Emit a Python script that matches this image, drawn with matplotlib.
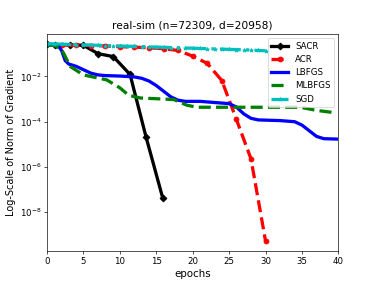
import matplotlib
matplotlib.use("Agg")
import matplotlib.pyplot as plt
import matplotlib.ticker as mticker
import numpy as np

# SACR
sacr_x = [0, 1.1, 3.2, 5.0, 7.0, 9.1, 11.4, 13.6, 15.9]
sacr_logy = [-0.58, -0.59, -0.6, -0.62, -0.99, -1.12, -1.91, -4.68, -7.39]

# ACR
acr_x = [0, 2, 4, 6, 8, 10, 12, 14, 16, 18, 20, 22, 24, 26, 28, 30]
acr_logy = [-0.58, -0.6, -0.62, -0.63, -0.65, -0.68, -0.7, -0.73, -0.77,
            -0.85, -1.1, -1.42, -2.18, -3.9, -5.64, -9.28]

# LBFGS
lbfgs_x = [0, 1.5, 2.0, 2.5, 3.0, 4.0, 5.0, 6.0, 7.0, 8.0, 10, 12, 13, 14, 15,
           16, 17, 18, 19, 21, 23, 25, 26, 27, 28, 29, 32, 34, 35, 36, 37, 38, 40]
lbfgs_logy = [-0.6, -0.62, -0.85, -1.3, -1.45, -1.55, -1.7, -1.85, -1.93, -1.96,
              -1.98, -2.02, -2.08, -2.2, -2.4, -2.65, -2.9, -3.05, -3.1, -3.1,
              -3.15, -3.2, -3.35, -3.65, -3.85, -3.92, -3.95, -4.0, -4.15, -4.4,
              -4.65, -4.75, -4.77]

# MLBFGS
mlbfgs_x = [0, 1.0, 2.0, 3.2, 5.0, 8.2, 10.0, 11.2, 12.8, 17.4, 19.2, 20.6,
            34.8, 37.0, 39.5]
mlbfgs_logy = [-0.6, -0.62, -0.8, -1.56, -1.93, -2.15, -2.5, -2.83, -2.95,
               -3.02, -3.27, -3.36, -3.36, -3.5, -3.6]

# SGD
sgd_x = list(range(0, 31))
sgd_logy = [-0.55, -0.56, -0.57, -0.58, -0.59, -0.6, -0.61, -0.62, -0.63, -0.64,
            -0.65, -0.66, -0.67, -0.68, -0.69, -0.7, -0.71, -0.72, -0.73, -0.74,
            -0.75, -0.76, -0.77, -0.78, -0.79, -0.8, -0.81, -0.82, -0.83, -0.85,
            -0.86]

y_ticks = [1e-8, 1e-6, 1e-4, 1e-2]

fig, ax = plt.subplots(figsize=(6.4, 4.8), dpi=58.75)

ax.semilogy(sacr_x, 10 ** np.array(sacr_logy), color='k', linestyle='-',
            marker='D', markersize=6, linewidth=4, label='SACR')
ax.semilogy(acr_x, 10 ** np.array(acr_logy), color='r', linestyle='--',
            marker='o', markersize=6, linewidth=4, label='ACR')
ax.semilogy(lbfgs_x, 10 ** np.array(lbfgs_logy), color='b', linestyle='-',
            linewidth=4, label='LBFGS')
ax.semilogy(mlbfgs_x, 10 ** np.array(mlbfgs_logy), color='g', linestyle='--',
            linewidth=4, label='MLBFGS')
ax.semilogy(sgd_x, 10 ** np.array(sgd_logy), color='c', linestyle='-.',
            marker='*', markersize=5, linewidth=4, label='SGD')

ax.set_xlim(0, 40)
ax.yaxis.set_major_locator(mticker.FixedLocator(y_ticks))
ax.yaxis.set_major_formatter(mticker.LogFormatterSciNotation())
ax.yaxis.set_minor_locator(mticker.NullLocator())
ax.tick_params(labelsize=10.5)
ax.set_title('real-sim (n=72309, d=20958)', fontsize=13)
ax.set_xlabel('epochs', fontsize=12.5)
ax.set_ylabel('Log-Scale of Norm of Gradient', fontsize=12)
ax.legend(loc='upper right', fontsize=10.5)

fig.savefig('out.png', dpi=58.75)
